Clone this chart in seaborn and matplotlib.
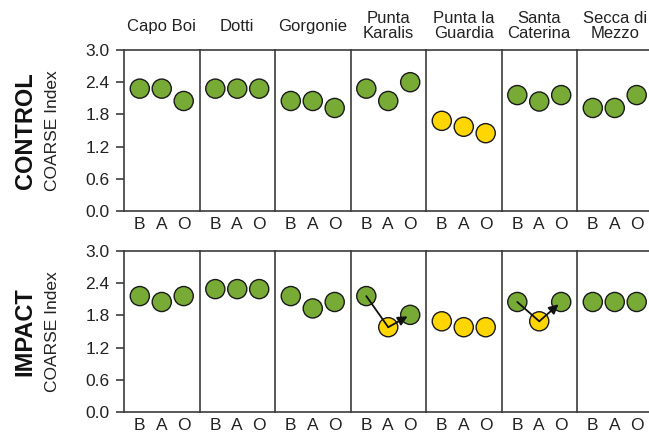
import pandas as pd
import seaborn as sns
import matplotlib.pyplot as plt

# Sitios y periodos
sites = ['Capo Boi', 'Dotti', 'Gorgonie', 'Punta\nKaralis', 'Punta la\nGuardia',
         'Santa\nCaterina', 'Secca di\nMezzo']
periods = ['B', 'A', 'O']
yticks = [0.0, 0.6, 1.2, 1.8, 2.4, 3.0]

# Valores COARSE (B, A, O) por sitio
control_vals = [[2.28, 2.28, 2.05], [2.28, 2.28, 2.28], [2.05, 2.05, 1.92],
                [2.28, 2.05, 2.40], [1.68, 1.57, 1.45], [2.16, 2.04, 2.16],
                [1.92, 1.92, 2.16]]
impact_vals = [[2.16, 2.05, 2.16], [2.29, 2.29, 2.29], [2.16, 1.93, 2.05],
               [2.16, 1.58, 1.81], [1.69, 1.58, 1.58], [2.05, 1.69, 2.05],
               [2.05, 2.05, 2.05]]

# Estado de cada punto (n = normal, y = bajo)
control_status = [['n', 'n', 'n'], ['n', 'n', 'n'], ['n', 'n', 'n'], ['n', 'n', 'n'],
                  ['y', 'y', 'y'], ['n', 'n', 'n'], ['n', 'n', 'n']]
impact_status = [['n', 'n', 'n'], ['n', 'n', 'n'], ['n', 'n', 'n'], ['n', 'y', 'n'],
                 ['y', 'y', 'y'], ['n', 'y', 'n'], ['n', 'n', 'n']]

# Sitios con flechas en IMPACT
arrow_sites = [3, 5]

sns.set_theme(style='white')
plt.rcParams['font.family'] = ['Liberation Sans Narrow', 'Liberation Sans', 'DejaVu Sans']

palette = {'n': '#78AB36', 'y': '#FFD600'}
frame_col = '#3c3c3c'
txt_col = '#222222'

rows = []
for grupo, vals, stat in [('CONTROL', control_vals, control_status),
                          ('IMPACT', impact_vals, impact_status)]:
    for i, s in enumerate(sites):
        for j, p in enumerate(periods):
            rows.append({'grupo': grupo, 'site': i, 'pos': j, 'period': p,
                         'value': vals[i][j], 'status': stat[i][j]})
df = pd.DataFrame(rows)

fig = plt.figure(figsize=(6.49, 4.33), dpi=100)

W, H = 649, 433
left0, pw, ph = 124, 75.5, 161
row_tops = {'CONTROL': 50, 'IMPACT': 251}

for grupo, top in row_tops.items():
    for i, s in enumerate(sites):
        ax = fig.add_axes([(left0 + i * pw) / W, 1 - (top + ph) / H, pw / W, ph / H])
        sub = df[(df['grupo'] == grupo) & (df['site'] == i)]
        sns.scatterplot(data=sub, x='pos', y='value', hue='status', palette=palette,
                        s=190, edgecolor='#1a1a1a', linewidth=1.0, legend=False,
                        ax=ax, zorder=3, clip_on=False)
        if grupo == 'IMPACT' and i in arrow_sites:
            v = impact_vals[i]
            ax.plot([0, 1], [v[0], v[1]], color='#111111', lw=1.3, zorder=4)
            ax.annotate('', xy=(1.88, v[1] + (v[2] - v[1]) * 0.88), xytext=(1, v[1]),
                        arrowprops=dict(arrowstyle='-|>', color='#111111', lw=1.3,
                                        mutation_scale=14, shrinkA=0, shrinkB=0),
                        zorder=4)
        ax.set_xlim(-0.72, 2.72)
        ax.set_ylim(0, 3.0)
        ax.set_xticks([0, 1, 2])
        ax.set_xticklabels(periods, fontsize=12.5)
        ax.tick_params(axis='x', length=0, pad=4, colors=txt_col)
        ax.set_xlabel('')
        ax.set_ylabel('')
        for sp in ax.spines.values():
            sp.set_color(frame_col)
            sp.set_linewidth(1.2)
        if i < len(sites) - 1:
            ax.spines['right'].set_visible(False)
        ax.set_yticks(yticks)
        if i == 0:
            ax.set_yticklabels([f'{t:.1f}' for t in yticks], fontsize=12.5)
            ax.tick_params(axis='y', left=True, length=6, width=1.2, pad=4.5,
                           color=frame_col, labelcolor=txt_col)
            ax.set_ylabel('COARSE Index', fontsize=12.5, color=txt_col)
            ax.yaxis.set_label_coords(-0.85, 0.5)
            ax.text(-1.31, 0.5, grupo, transform=ax.transAxes, rotation=90,
                    ha='center', va='center', fontsize=17, fontweight='bold',
                    color='#111111')
        else:
            ax.set_yticklabels([])
            ax.tick_params(axis='y', left=False, length=0)
        if grupo == 'CONTROL':
            ax.text(0.5, 1.149, s, transform=ax.transAxes, ha='center', va='center',
                    fontsize=12, linespacing=1.0, color=txt_col)

fig.savefig('out.png', dpi=100)
